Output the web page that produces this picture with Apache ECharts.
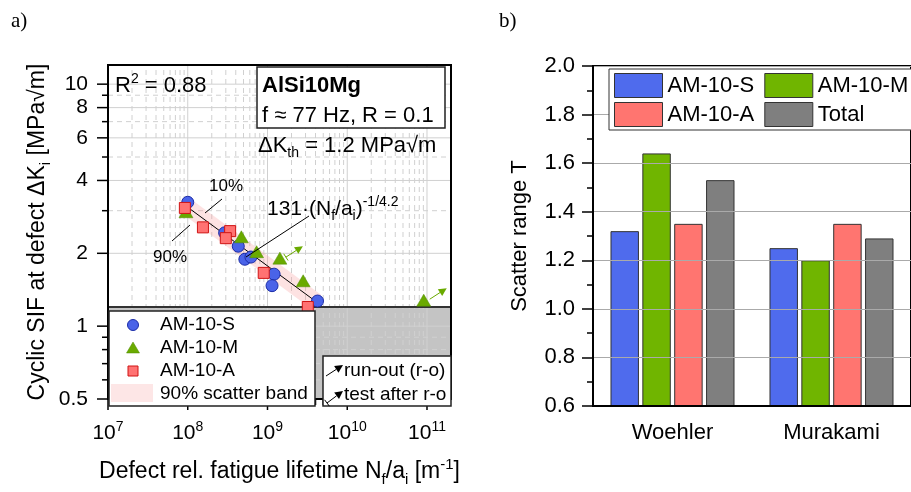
<!DOCTYPE html>
<html><head><meta charset="utf-8">
<script src="https://cdn.jsdelivr.net/npm/echarts@6/dist/echarts.min.js"></script>
<style>html,body{margin:0;padding:0;background:#fff}#c{width:911px;height:492px}</style>
</head><body><div id="c"></div><script>
const FONT = 'Liberation Sans, Arial, sans-serif';

// ---------- (a) data ----------
const sN = [1.0e8, 2.9e8, 4.3e8, 5.2e8, 6.2e8, 1.21e9, 1.14e9, 4.24e9];
const sK = [3.25, 2.43, 2.14, 1.89, 1.93, 1.64, 1.47, 1.27];
const mN = [9.5e7, 4.7e8, 7.3e8, 1.43e9, 2.8e9, 9.1e10];
const mK = [2.97, 2.34, 2.03, 1.91, 1.54, 1.28];
const mRunout = [0, 0, 0, 2, 0, 1];   // 1 = run-out, 2 = test after run-out
const aN = [9.2e7, 1.55e8, 3.4e8, 3.0e8, 8.97e8, 3.2e9];
const aK = [3.08, 2.56, 2.47, 2.31, 1.66, 1.20];
const fitN = [9.6e7, 4.1e9];
const fitK = [3.13, 1.26];
const DK_TH = 1.2;

const X_MIN = 1e7, X_MAX = 2e11, Y_MIN = 0.5, Y_MAX = 12;
const xMajorTicks = [1e7, 1e8, 1e9, 1e10, 1e11];
const xTickExp = ['7', '8', '9', '10', '11'];
const xMinorTicks = [];
xMajorTicks.forEach(d => { for (let k = 2; k <= 9; k++) { if (d * k < X_MAX) xMinorTicks.push(d * k); } });
const yMajorTicks = [0.5, 1, 2, 4, 6, 8, 10];
const yTickLabels = ['0.5', '1', '2', '4', '6', '8', '10'];
const yMinorTicks = [0.6, 0.7, 0.8, 0.9, 3, 5, 7, 9];

// ---------- (b) data ----------
const barCats = ['Woehler', 'Murakami'];
const tS = [1.32, 1.25];
const tM = [1.64, 1.20];
const tA = [1.35, 1.35];
const tTotal = [1.53, 1.29];

const C = {
  blue: '#4a63e8', blueEdge: '#1b2ca8',
  green: '#6aaa00', greenEdge: '#4f8a00',
  red: '#ff7272', redEdge: '#d01414',
  barBlue: '#4f6bed', barGreen: '#70b500', barRed: '#ff7570', barGray: '#7f7f7f'
};

function arrowEls(x1, y1, x2, y2, color, tail) {
  const dx = x2 - x1, dy = y2 - y1, L = Math.hypot(dx, dy), ux = dx / L, uy = dy / L, hl = 8, hw = 4;
  const bx = x2 - ux * hl, by = y2 - uy * hl;
  const els = [
    {type: 'line', shape: {x1: x1, y1: y1, x2: bx, y2: by}, style: {stroke: color, lineWidth: 1}},
    {type: 'polygon', shape: {points: [[x2, y2], [bx - uy * hw, by + ux * hw], [bx + uy * hw, by - ux * hw]]}, style: {fill: color}}
  ];
  if (tail) els.push({type: 'line', shape: {x1: x1 - uy * 4, y1: y1 + ux * 4, x2: x1 + uy * 4, y2: y1 - ux * 4}, style: {stroke: color, lineWidth: 1}});
  return els;
}

function renderAxesA(params, api) {
  const ch = [];
  const bl = api.coord([X_MIN, Y_MIN]);
  const tr = api.coord([X_MAX, Y_MAX]);
  const thY = api.coord([X_MIN, DK_TH])[1];
  ch.push({type: 'rect', shape: {x: bl[0], y: thY, width: tr[0] - bl[0], height: bl[1] - thY}, style: {fill: '#c4c4c4'}});
  const gl = (x1, y1, x2, y2, dash) => {
    const st = {stroke: '#d0d0d0', lineWidth: 1};
    if (dash) st.lineDash = [5, 4];
    return {type: 'line', shape: {x1, y1, x2, y2}, style: st};
  };
  xMinorTicks.forEach(v => { const x = api.coord([v, Y_MIN])[0]; ch.push(gl(x, bl[1], x, tr[1], true)); });
  xMajorTicks.forEach(v => { if (v > X_MIN && v < X_MAX) { const x = api.coord([v, Y_MIN])[0]; ch.push(gl(x, bl[1], x, tr[1], false)); } });
  yMinorTicks.forEach(v => { const y = api.coord([X_MIN, v])[1]; ch.push(gl(bl[0], y, tr[0], y, true)); });
  yMajorTicks.forEach(v => { if (v > Y_MIN) { const y = api.coord([X_MIN, v])[1]; ch.push(gl(bl[0], y, tr[0], y, false)); } });
  ch.push({type: 'line', shape: {x1: bl[0], y1: thY, x2: tr[0], y2: thY}, style: {stroke: '#333', lineWidth: 2}});
  const tk = (x1, y1, x2, y2) => ({type: 'line', shape: {x1, y1, x2, y2}, style: {stroke: '#000', lineWidth: 1.5}});
  xMinorTicks.forEach(v => { const x = api.coord([v, Y_MIN])[0]; ch.push(tk(x, bl[1], x, bl[1] + 6)); });
  xMajorTicks.forEach((v, i) => {
    const x = api.coord([v, Y_MIN])[0];
    ch.push(tk(x, bl[1], x, bl[1] + 11));
    ch.push({type: 'text', style: {
      text: '{b|10}{s|' + xTickExp[i] + '}', x: x, y: bl[1] + 21, align: 'center', verticalAlign: 'top',
      rich: {
        b: {fontSize: 21, fontFamily: FONT, lineHeight: 26, fill: '#000'},
        s: {fontSize: 14, fontFamily: FONT, lineHeight: 15, verticalAlign: 'top', fill: '#000'}
      }}});
  });
  yMinorTicks.forEach(v => { const y = api.coord([X_MIN, v])[1]; ch.push(tk(bl[0] - 6, y, bl[0], y)); });
  yMajorTicks.forEach((v, i) => {
    const y = api.coord([X_MIN, v])[1];
    ch.push(tk(bl[0] - 11, y, bl[0], y));
    ch.push({type: 'text', style: {text: yTickLabels[i], x: bl[0] - 20, y: y, align: 'right', verticalAlign: 'middle',
      fontSize: 21, fontFamily: FONT, fill: '#000'}});
  });
  return {type: 'group', children: ch};
}

function renderRunout(params, api) {
  const p = api.coord([api.value(0), api.value(1)]);
  const kind = api.value(2);
  return {type: 'group', children: arrowEls(p[0] + 6, p[1] - 1, p[0] + 23, p[1] - 12, C.green, kind === 2)};
}

const runoutData = mN.map((n, i) => [n, mK[i], mRunout[i]]).filter(d => d[2] > 0);

// ---------- graphic annotations ----------
const T = (text, x, y, size, extra) => Object.assign({type: 'text', style: Object.assign({text, x, y, fontSize: size, fontFamily: FONT, fill: '#000', align: 'left', verticalAlign: 'middle'}, extra || {})});
const richN = (size) => ({
  n: {fontSize: size, fontFamily: FONT, lineHeight: 28, fill: '#000'},
  sub: {fontSize: Math.round(size * 0.65), fontFamily: FONT, lineHeight: 15, verticalAlign: 'bottom', fill: '#000'},
  sup: {fontSize: Math.round(size * 0.65), fontFamily: FONT, lineHeight: 18, verticalAlign: 'top', fill: '#000'}
});

let gEls = [];
gEls.push(T('a)', 11, 21, 21, {fontFamily: 'Liberation Serif, Times New Roman, serif'}));
gEls.push(T('b)', 499, 21, 21, {fontFamily: 'Liberation Serif, Times New Roman, serif'}));
// R^2
gEls.push({type: 'text', style: {text: '{n|R}{sup|2}{n| = 0.88}', x: 115, y: 86, verticalAlign: 'middle', rich: richN(22)}});
// material box
gEls.push({type: 'rect', shape: {x: 257, y: 67, width: 188, height: 61}, style: {fill: '#fff', stroke: '#222', lineWidth: 1.5}});
gEls.push(T('AlSi10Mg', 262, 86, 22, {fontWeight: 'bold'}));
gEls.push(T('f ≈ 77 Hz, R = 0.1', 262, 116, 22));
gEls.push({type: 'text', style: {text: '{n|ΔK}{sub|th}{n| = 1.2 MPa√m}', x: 258, y: 146, verticalAlign: 'middle', rich: richN(22)}});
// band labels
gEls.push(T('10%', 226, 186, 17, {align: 'center'}));
gEls.push({type: 'line', shape: {x1: 205, y1: 213, x2: 222, y2: 199}, style: {stroke: '#000', lineWidth: 1}});
gEls.push(T('90%', 170, 257, 17, {align: 'center'}));
gEls.push({type: 'line', shape: {x1: 172, y1: 241, x2: 190, y2: 225}, style: {stroke: '#000', lineWidth: 1}});
// formula
gEls.push({type: 'text', style: {text: '{n|131·(N}{sub|f}{n|/a}{sub|i}{n|)}{sup|-1/4.2}', x: 267, y: 209, verticalAlign: 'middle', rich: richN(21)}});
gEls.push({type: 'line', shape: {x1: 309, y1: 216, x2: 246, y2: 257}, style: {stroke: '#000', lineWidth: 1}});
// legend box (a)
gEls.push({type: 'rect', shape: {x: 109, y: 311, width: 206, height: 95}, style: {fill: '#fff', stroke: '#222', lineWidth: 1.5}});
gEls.push({type: 'circle', shape: {cx: 133, cy: 325, r: 5.5}, style: {fill: C.blue, stroke: C.blueEdge, lineWidth: 1}});
gEls.push({type: 'polygon', shape: {points: [[133, 342], [139.5, 353], [126.5, 353]]}, style: {fill: C.green, stroke: C.greenEdge, lineWidth: 0.5}});
gEls.push({type: 'rect', shape: {x: 128, y: 366, width: 10, height: 10}, style: {fill: C.red, stroke: C.redEdge, lineWidth: 1}});
gEls.push({type: 'rect', shape: {x: 111, y: 384, width: 42, height: 18}, style: {fill: '#fde6e6'}});
gEls.push(T('AM-10-S', 160, 325, 19));
gEls.push(T('AM-10-M', 160, 348, 19));
gEls.push(T('AM-10-A', 160, 371, 19));
gEls.push(T('90% scatter band', 160, 394, 19));
// run-out box
gEls.push({type: 'rect', shape: {x: 323, y: 356, width: 128, height: 50}, style: {fill: '#fff', stroke: '#222', lineWidth: 1.5}});
gEls = gEls.concat(arrowEls(326, 376, 343, 365, '#000', false));
gEls = gEls.concat(arrowEls(327, 403, 343, 391, '#000', true));
gEls.push(T('run-out (r-o)', 344, 371, 19));
gEls.push(T('test after r-o', 344, 395, 19));
gEls.forEach(e => { e.z = 100; });
// legend frame (b)
gEls.push({type: 'rect', z: 11, shape: {x: 609, y: 69, width: 320, height: 61}, style: {fill: '#fff', stroke: '#333', lineWidth: 1}});

const richAxis = {
  n: {fontSize: 23, fontFamily: FONT, lineHeight: 30, color: '#000'},
  sub: {fontSize: 15, fontFamily: FONT, lineHeight: 15, verticalAlign: 'bottom', color: '#000'},
  sup: {fontSize: 15, fontFamily: FONT, lineHeight: 18, verticalAlign: 'top', color: '#000'}
};

const barSeries = (name, data, color) => ({
  type: 'bar', name, data, xAxisIndex: 1, yAxisIndex: 1,
  barCategoryGap: '22%', barGap: '12%',
  itemStyle: {color, borderColor: '#333', borderWidth: 1}
});

const legendCommon = {left: 614, itemWidth: 48, itemHeight: 24, itemGap: 10, padding: 0, icon: 'rect', z: 12,
  textStyle: {fontSize: 22, color: '#000', fontFamily: FONT}, selectedMode: false,
  itemStyle: {borderColor: '#333', borderWidth: 1}};

const option = {
  animation: false,
  backgroundColor: '#fff',
  textStyle: {fontFamily: FONT},
  grid: [
    {left: 108, top: 65, width: 343, height: 342, show: true, borderColor: '#000', borderWidth: 2, backgroundColor: 'transparent', z: 10},
    {left: 593, top: 66, width: 327, height: 340, show: true, borderColor: '#000', borderWidth: 2, backgroundColor: 'transparent', z: 10}
  ],
  xAxis: [
    {type: 'log', gridIndex: 0, min: X_MIN, max: X_MAX, logBase: 10, z: 10,
     axisLine: {lineStyle: {color: '#000', width: 2}}, axisTick: {show: false}, axisLabel: {show: false},
     splitLine: {show: false}, minorTick: {show: false}, minorSplitLine: {show: false},
     name: '{n|Defect rel. fatigue lifetime N}{sub|f}{n|/a}{sub|i}{n| [m}{sup|-1}{n|]}',
     nameLocation: 'middle', nameGap: 58, nameTextStyle: {rich: richAxis}},
    {type: 'category', gridIndex: 1, data: barCats, z: 10,
     axisLine: {lineStyle: {color: '#000', width: 2}},
     axisTick: {alignWithLabel: true, length: 6, lineStyle: {color: '#000', width: 1.5}},
     axisLabel: {fontSize: 22, color: '#000', margin: 16, fontFamily: FONT}}
  ],
  yAxis: [
    {type: 'log', gridIndex: 0, min: Y_MIN, max: Y_MAX, logBase: 10, z: 10,
     axisLine: {lineStyle: {color: '#000', width: 2}}, axisTick: {show: false}, axisLabel: {show: false},
     splitLine: {show: false}, minorTick: {show: false}, minorSplitLine: {show: false},
     name: '{n|Cyclic SIF at defect ΔK}{sub|i}{n| [MPa√m]}',
     nameLocation: 'middle', nameGap: 55, nameTextStyle: {rich: richAxis}},
    {type: 'value', gridIndex: 1, min: 0.6, max: 2.0, interval: 0.2, z: 10,
     axisLine: {show: true, lineStyle: {color: '#000', width: 2}},
     axisTick: {show: true, length: 11, lineStyle: {color: '#000', width: 1.5}},
     minorTick: {show: true, splitNumber: 2, length: 6, lineStyle: {color: '#000', width: 1.5}},
     axisLabel: {fontSize: 22, color: '#000', margin: 18, fontFamily: FONT, formatter: v => v.toFixed(1)},
     splitLine: {show: true, lineStyle: {color: '#aaa', width: 1}},
     name: 'Scatter range T', nameLocation: 'middle', nameGap: 62,
     nameTextStyle: {fontSize: 22, color: '#000', fontFamily: FONT}}
  ],
  legend: [
    Object.assign({data: ['AM-10-S', 'AM-10-M'], top: 73}, legendCommon),
    Object.assign({data: ['AM-10-A', 'Total'], top: 102}, legendCommon)
  ],
  graphic: {elements: gEls},
  series: [
    {type: 'custom', name: 'axesA', xAxisIndex: 0, yAxisIndex: 0, data: [[X_MIN, Y_MIN]], renderItem: renderAxesA,
     z: 1, silent: true, clip: false},
    {type: 'line', name: 'band', xAxisIndex: 0, yAxisIndex: 0, data: fitN.map((n, i) => [n, fitK[i]]),
     symbol: 'none', lineStyle: {width: 17, color: 'rgba(248,160,160,0.3)', cap: 'butt'}, z: 3, silent: true},
    {type: 'line', name: 'fit', xAxisIndex: 0, yAxisIndex: 0, data: fitN.map((n, i) => [n, fitK[i]]),
     symbol: 'none', lineStyle: {width: 1, color: '#000'}, z: 4, silent: true},
    {type: 'scatter', name: 'S', xAxisIndex: 0, yAxisIndex: 0, data: sN.map((n, i) => [n, sK[i]]),
     symbol: 'circle', symbolSize: 12, itemStyle: {color: C.blue, borderColor: C.blueEdge, borderWidth: 1, opacity: 1}, z: 5},
    {type: 'scatter', name: 'M', xAxisIndex: 0, yAxisIndex: 0, data: mN.map((n, i) => [n, mK[i]]),
     symbol: 'triangle', symbolSize: [14, 12], itemStyle: {color: C.green, borderColor: C.greenEdge, borderWidth: 0.5, opacity: 1}, z: 5},
    {type: 'scatter', name: 'A', xAxisIndex: 0, yAxisIndex: 0, data: aN.map((n, i) => [n, aK[i]]),
     symbol: 'rect', symbolSize: 11, itemStyle: {color: C.red, borderColor: C.redEdge, borderWidth: 1, opacity: 1}, z: 6},
    {type: 'custom', name: 'runout', xAxisIndex: 0, yAxisIndex: 0, data: runoutData, renderItem: renderRunout,
     z: 6, silent: true, clip: false},
    barSeries('AM-10-S', tS, C.barBlue),
    barSeries('AM-10-M', tM, C.barGreen),
    barSeries('AM-10-A', tA, C.barRed),
    barSeries('Total', tTotal, C.barGray)
  ]
};

const chart = echarts.init(document.getElementById('c'), null, {renderer: 'canvas'});
chart.setOption(option);
</script></body></html>
